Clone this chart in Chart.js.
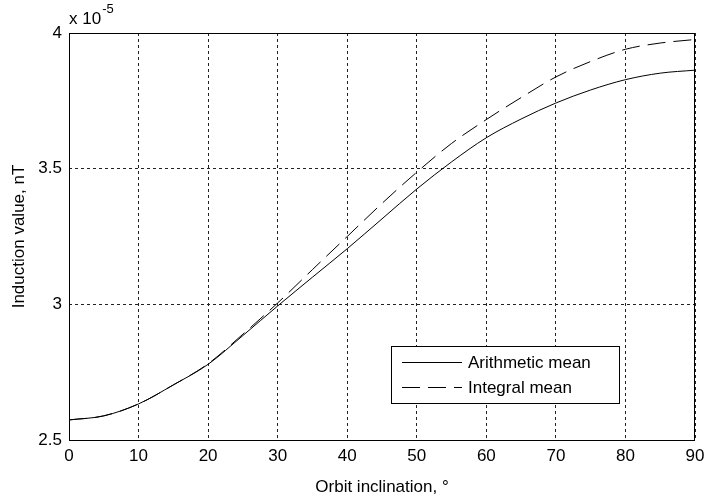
<!DOCTYPE html>
<html>
<head>
<meta charset="utf-8">
<script src="https://cdn.jsdelivr.net/npm/chart.js@4/dist/chart.umd.min.js"></script>
<style>
  html, body { margin: 0; padding: 0; background: #fff; }
  #wrap { width: 705px; height: 498px; }
</style>
</head>
<body>
<div id="wrap"><canvas id="c" width="705" height="498"></canvas></div>
<script>
// Orbit inclination, degrees
const inclination = [0, 5, 10, 15, 20, 25, 30, 35, 40, 45, 50, 55, 60, 65, 70, 75, 80, 85, 90];
// Induction values, in units of 1e-5
const arithmeticMean = [2.574, 2.589, 2.633, 2.703, 2.779, 2.885, 2.994, 3.100, 3.205, 3.315, 3.425, 3.525, 3.614, 3.683, 3.742, 3.790, 3.828, 3.852, 3.863];
const integralMean   = [2.574, 2.589, 2.633, 2.703, 2.781, 2.890, 3.005, 3.128, 3.250, 3.372, 3.487, 3.593, 3.681, 3.762, 3.838, 3.895, 3.940, 3.963, 3.976];
const seriesLabels = ['Arithmetic mean', 'Integral mean'];
const xTicks = [0, 10, 20, 30, 40, 50, 60, 70, 80, 90];
const yTicks = [2.5, 3, 3.5, 4];

const FONT = "'Liberation Sans', Arial, sans-serif";
Chart.defaults.font.family = FONT;
Chart.defaults.font.size = 17;
Chart.defaults.color = '#000';

const toPoints = ys => inclination.map((x, i) => ({ x, y: ys[i] }));

// Frame, exponent label and legend box
const decor = {
  id: 'decor',
  afterDraw(chart) {
    const { ctx, chartArea: a } = chart;
    ctx.save();
    ctx.strokeStyle = '#000';
    ctx.lineWidth = 1;
    ctx.setLineDash([]);
    ctx.strokeRect(Math.round(a.left) + 0.5, Math.round(a.top) + 0.5,
                   Math.round(a.right - a.left) - 1, Math.round(a.bottom - a.top));

    // axis multiplier
    ctx.fillStyle = '#000';
    ctx.textBaseline = 'alphabetic';
    ctx.textAlign = 'left';
    ctx.font = '17px ' + FONT;
    ctx.fillText('x 10', a.left, 24);
    const w = ctx.measureText('x 10').width;
    ctx.font = '13px ' + FONT;
    ctx.fillText('-5', a.left + w + 1, 13);

    // legend
    const bx = 391, by = 346, bw = 228, bh = 57;
    ctx.fillStyle = '#fff';
    ctx.fillRect(bx, by, bw, bh);
    ctx.strokeStyle = '#000';
    ctx.strokeRect(bx + 0.5, by + 0.5, bw, bh);
    ctx.font = '17px ' + FONT;
    ctx.textBaseline = 'middle';
    const rows = [362.5, 387.5];
    chart.data.datasets.forEach((ds, i) => {
      ctx.beginPath();
      ctx.setLineDash(ds.borderDash || []);
      ctx.strokeStyle = ds.borderColor;
      ctx.lineWidth = ds.borderWidth;
      ctx.moveTo(402, rows[i]);
      ctx.lineTo(462, rows[i]);
      ctx.stroke();
      ctx.setLineDash([]);
      ctx.fillStyle = '#000';
      ctx.fillText(ds.label, 468, rows[i] + 1);
    });
    ctx.restore();
  }
};

new Chart(document.getElementById('c'), {
  type: 'line',
  data: {
    datasets: [
      {
        label: seriesLabels[0],
        data: toPoints(arithmeticMean),
        borderColor: '#000',
        borderWidth: 1,
        pointRadius: 0,
        cubicInterpolationMode: 'monotone',
        fill: false
      },
      {
        label: seriesLabels[1],
        data: toPoints(integralMean),
        borderColor: '#000',
        borderWidth: 1,
        borderDash: [18, 8],
        pointRadius: 0,
        cubicInterpolationMode: 'monotone',
        fill: false
      }
    ]
  },
  options: {
    responsive: false,
    animation: false,
    layout: { padding: { top: 33, right: 10, left: 0, bottom: 0 } },
    plugins: { legend: { display: false }, tooltip: { enabled: false } },
    scales: {
      x: {
        type: 'linear',
        min: 0, max: 90,
        afterBuildTicks: s => { s.ticks = xTicks.map(v => ({ value: v })); },
        afterFit: s => { s.height = 58; s.paddingRight = 0; s.paddingLeft = 0; },
        ticks: { padding: 6, maxRotation: 0, autoSkip: false },
        grid: { color: '#222', lineWidth: 1, drawTicks: false },
        border: { display: false, dash: [3, 3] },
        title: { display: true, text: 'Orbit inclination, °', padding: { top: 10, bottom: 0 } }
      },
      y: {
        type: 'linear',
        min: 2.5, max: 4,
        afterBuildTicks: s => { s.ticks = yTicks.map(v => ({ value: v })); },
        afterFit: s => { s.width = 69; s.paddingTop = 0; s.paddingBottom = 0; },
        ticks: { padding: 7, callback: v => String(v) },
        grid: { color: '#222', lineWidth: 1, drawTicks: false },
        border: { display: false, dash: [3, 3] },
        title: { display: true, text: 'Induction value, nT', padding: { top: 9, bottom: 0 } }
      }
    }
  },
  plugins: [decor]
});
</script>
</body>
</html>
